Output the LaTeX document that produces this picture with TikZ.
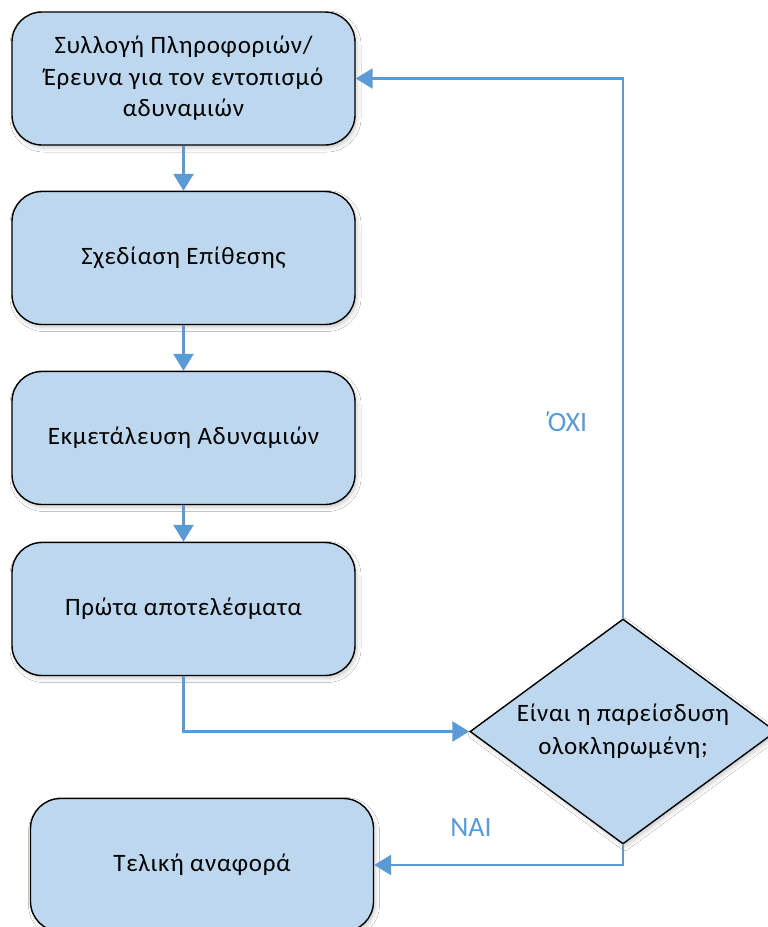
\documentclass[tikz,border=0pt]{standalone}
\usepackage{fontspec}
\setmainfont{Carlito}
\newfontfamily\boxfont[LetterSpace=3]{Carlito}
\usetikzlibrary{arrows.meta,shapes.geometric,shadows.blur}
\definecolor{boxblue}{HTML}{BDD7EE}
\definecolor{lineblue}{HTML}{5B9BD5}
\tikzset{
  boxshadow/.style={blur shadow={shadow xshift=2pt, shadow yshift=-3pt, shadow blur radius=4pt, shadow opacity=20}},
  stepbox/.style={rounded corners=30pt, draw=black, line width=1.4pt, fill=boxblue,
    minimum width=343pt, minimum height=133pt, inner sep=0pt, align=center,
    font=\boxfont\fontsize{25}{31.5}\selectfont, boxshadow},
  decision/.style={diamond, aspect=1.36, draw=black, line width=1.4pt, fill=boxblue,
    minimum width=306pt, minimum height=225pt, inner sep=0pt, align=center,
    font=\boxfont\fontsize{25}{33}\selectfont, boxshadow},
  flow/.style={draw=lineblue, line width=2.5pt, -{Triangle[length=17pt,width=20pt]}},
  answer/.style={text=lineblue, font=\fontsize{28}{32}\selectfont, inner sep=0pt}
}
\begin{document}
\begin{tikzpicture}[x=1pt,y=-1pt]
  \clip (0,0) rectangle (768,927);
  \fill[white] (0,0) rectangle (768,927);

  % process steps
  \node[stepbox] (b1) at (183.5,78.5) {Συλλογή Πληροφοριών/\\Έρευνα για τον εντοπισμό\\αδυναμιών};
  \node[stepbox] (b2) at (183.5,258) {Σχεδίαση Επίθεσης};
  \node[stepbox] (b3) at (183.5,438) {Εκμετάλευση Αδυναμιών};
  \node[stepbox] (b4) at (183.5,609) {Πρώτα αποτελέσματα};
  \node[decision] (dia) at (623,731.5) {Είναι η παρείσδυση\\ολοκληρωμένη;};
  \node[stepbox] (b5) at (202,865) {Τελική αναφορά};

  % connectors
  \draw[flow] (b1.south) -- (b2.north);
  \draw[flow] (b2.south) -- (b3.north);
  \draw[flow] (b3.south) -- (b4.north);
  \draw[flow] (b4.south) |- (dia.west);
  \draw[flow] (dia.north) |- (b1.east);
  \draw[flow] (dia.south) |- (b5.east);

  % branch labels (tonos set as its own glyph, tucked against the capital)
  \node[answer] (no) at (565,422) {\char"0384\kern-4pt ΟΧΙ};
  \node[answer] (yes) at (471,828) {ΝΑΙ};
\end{tikzpicture}
\end{document}
